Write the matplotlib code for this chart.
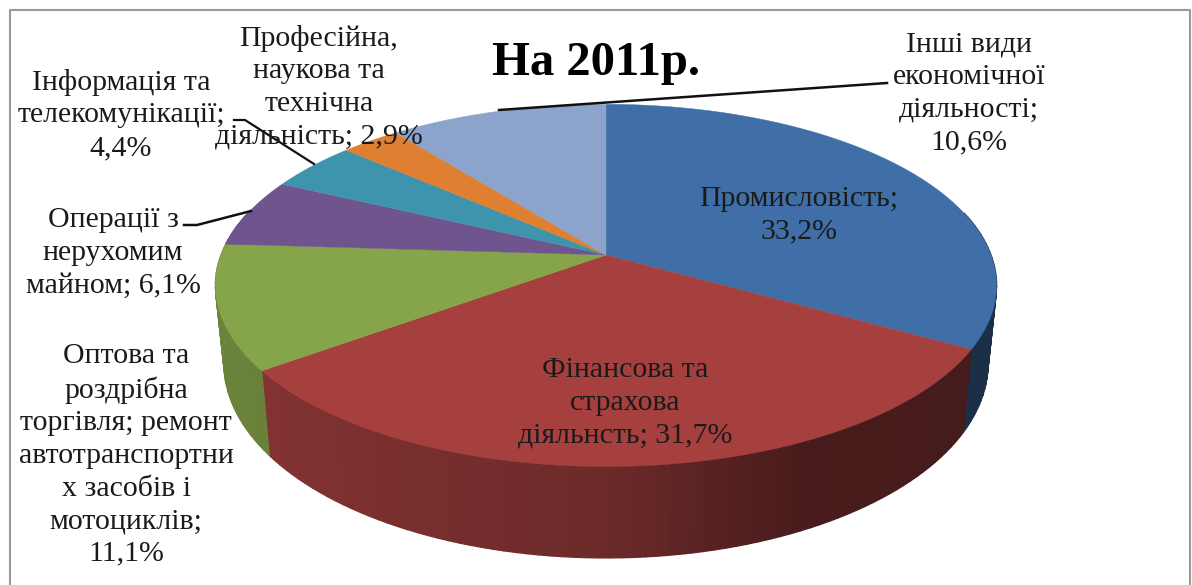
import numpy as np
import matplotlib
matplotlib.use("Agg")
import matplotlib.pyplot as plt
from matplotlib.colors import to_rgb

# ---------- Data ----------
labels = [
    "Промисловість;\n33,2%",
    "Фінансова та\nстрахова\nдіяльнсть; 31,7%",
    "Оптова та\nроздрібна\nторгівля; ремонт\nавтотранспортни\nх засобів і\nмотоциклів;\n11,1%",
    "Операції з\nнерухомим\nмайном; 6,1%",
    "Інформація та\nтелекомунікації;\n4,4%",
    "Професійна,\nнаукова та\nтехнічна\nдіяльність; 2,9%",
    "Інші види\nекономічної\nдіяльності;\n10,6%",
]
shares = [33.2, 31.7, 11.1, 6.1, 4.4, 2.9, 10.6]
colors = ["#3F6FA6", "#A5403F", "#86A44A", "#70548E", "#3E93AD", "#DE7F32", "#8CA3CC"]
title = "На 2011р."

# label centres in pixels, same order as labels
label_pos = [(799, 215), (625, 403), (126, 455), (113, 253), (121, 115), (319, 87), (969, 93)]

# ---------- Geometry of the tilted pie ----------
CX, CY = 606, 255
RX, RY = 385, 176
K = 0.168
DEPTH = 76
SHRINK = 0.978


def project(ang, bottom=False):
    # ang in degrees, clockwise from the top of the pie
    a = np.radians(ang)
    x, y = np.sin(a), np.cos(a)
    d = 1 + K * y
    sx = RX * x / d
    sy = CY - RY * y / d
    if bottom:
        return CX + sx * SHRINK, sy + DEPTH / d
    return CX + sx, sy


def side_factor(sx):
    # light falls off from left to right along the rim
    return np.interp(sx, [220, 600, 800, 1000], [0.80, 0.66, 0.44, 0.42])


fig = plt.figure(figsize=(11.92, 5.85), dpi=100)
ax = fig.add_axes([0, 0, 1, 1])
ax.set_xlim(0, 1192)
ax.set_ylim(585, 0)
ax.axis("off")

# chart frame
ax.plot([10, 10, 1190, 1190], [585, 10, 10, 585], color="#9a9a9a", lw=1.5, zorder=1)

edges = np.concatenate([[0], np.cumsum(shares)]) * 3.6

# rim first, the top covers the back part of it
for i, col in enumerate(colors):
    base = np.array(to_rgb(col))
    angs = np.linspace(edges[i], edges[i + 1], max(2, int((edges[i + 1] - edges[i]) / 1.5) + 1))
    for a0, a1 in zip(angs[:-1], angs[1:]):
        if np.cos(np.radians((a0 + a1) / 2)) > 0.25:
            continue
        x0, y0 = project(a0)
        x1, y1 = project(a1)
        x2, y2 = project(a1, bottom=True)
        x3, y3 = project(a0, bottom=True)
        c = tuple(base * side_factor((x0 + x1) / 2))
        ax.fill([x0, x1, x2, x3], [y0, y1, y2, y3], facecolor=c, edgecolor=c, lw=1.0, zorder=2)

# top face
for i, col in enumerate(colors):
    angs = np.linspace(edges[i], edges[i + 1], 120)
    xs, ys = project(angs)
    ax.fill(np.r_[CX, xs], np.r_[CY, ys], color=col, lw=0.3, zorder=3)

# leader lines
ax.plot([499, 887], [110, 83], color="#111111", lw=1.8, zorder=4)
ax.plot([234, 245, 314], [120, 120, 164], color="#111111", lw=1.6, zorder=4)
ax.plot([184, 197, 251], [225, 225, 211], color="#111111", lw=1.8, zorder=4)

for text, (x, y) in zip(labels, label_pos):
    ax.text(x, y, text, ha="center", va="center", family="Liberation Serif",
            fontsize=21.5, color="#1a1a1a", linespacing=1.33, zorder=5)

ax.text(596, 63, title, ha="center", va="center", family="Liberation Serif",
        fontsize=35, fontweight="bold", color="black", zorder=5)

plt.savefig("out.png", dpi=100)
plt.close()
